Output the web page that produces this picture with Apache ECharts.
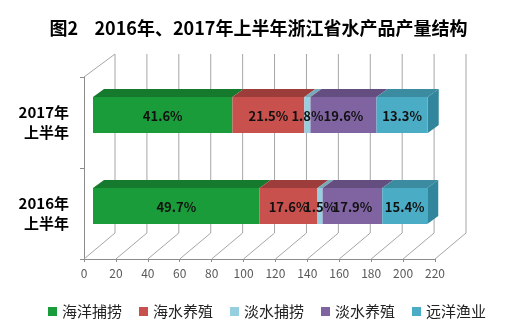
<!DOCTYPE html>
<html><head><meta charset="utf-8">
<script src="https://cdn.jsdelivr.net/npm/echarts@6/dist/echarts.min.js"></script>
<style>html,body{margin:0;padding:0;background:#fff}#c{width:517px;height:332px}</style>
</head><body><div id="c"></div>
<script>
const titleText = '图2    2016年、2017年上半年浙江省水产品产量结构';
const categories = ['2016年\n上半年', '2017年\n上半年'];
const seriesNames = ['海洋捕捞', '海水养殖', '淡水捕捞', '淡水养殖', '远洋渔业'];
const values2016 = [104.4, 36.3, 3.2, 37.4, 28.2];
const values2017 = [87.4, 45.1, 3.8, 41.4, 32.1];
const labels2016 = ['49.7%', '17.6%', '1.5%', '17.9%', '15.4%'];
const labels2017 = ['41.6%', '21.5%', '1.8%', '19.6%', '13.3%'];
const xTicks = [0, 20, 40, 60, 80, 100, 120, 140, 160, 180, 200, 220];

const frontColors = ['#1b9c3a', '#c8504d', '#96cfdf', '#8064a2', '#4bacc6'];
const topColors = ['#157a2d', '#9d3d3b', '#78aab9', '#644e80', '#3b8ba1'];
const sideColor = '#31859c';

const CJK = '"Noto Sans CJK SC", "Noto Sans", sans-serif';
const WALL_DX = 31, WALL_DY = -26;
const BAR_FX = 9, BAR_FY = -7.5;
const BAR_DX = 11, BAR_DY = -8;
const BAR_H = 36;

const allVals = [values2016, values2017];
const allLabels = [labels2016, labels2017];

function segData(si) {
  return allVals.map((vals, ci) => {
    let start = 0;
    for (let k = 0; k < si; k++) start += vals[k];
    return [start, ci, start + vals[si]];
  });
}

function renderSeg(si) {
  return function (params, api) {
    const start = api.value(0), ci = api.value(1), end = api.value(2);
    const label = allLabels[ci][si];
    const p0 = api.coord([start, ci]);
    const p1 = api.coord([end, ci]);
    const x0 = p0[0] + BAR_FX, x1 = p1[0] + BAR_FX;
    const yc = p0[1] + BAR_FY;
    const yT = yc - BAR_H / 2, yB = yc + BAR_H / 2;
    const children = [];
    children.push({
      type: 'polygon',
      shape: { points: [[x0, yT], [x1, yT], [x1 + BAR_DX, yT + BAR_DY], [x0 + BAR_DX, yT + BAR_DY]] },
      style: { fill: topColors[si] }
    });
    if (si === seriesNames.length - 1) {
      children.push({
        type: 'polygon',
        shape: { points: [[x1, yT], [x1 + BAR_DX, yT + BAR_DY], [x1 + BAR_DX, yB + BAR_DY], [x1, yB]] },
        style: { fill: sideColor }
      });
    }
    children.push({
      type: 'rect',
      shape: { x: x0, y: yT, width: x1 - x0, height: BAR_H },
      style: { fill: frontColors[si] }
    });
    children.push({
      type: 'text',
      z2: 10,
      style: {
        text: label, x: (x0 + x1) / 2, y: yc + 1,
        align: 'center', verticalAlign: 'middle',
        fill: '#111', font: 'bold 13px ' + CJK
      }
    });
    return { type: 'group', children: children };
  };
}

function renderWall(params, api) {
  const v = api.value(0);
  const cs = params.coordSys;
  const p = api.coord([v, 0]);
  const x = p[0];
  const bottom = cs.y + cs.height, top = cs.y;
  const st = { stroke: '#a6a6a6', lineWidth: 1 };
  const children = [
    { type: 'line', shape: { x1: x, y1: bottom, x2: x + WALL_DX, y2: bottom + WALL_DY }, style: st },
    { type: 'line', shape: { x1: x + WALL_DX, y1: bottom + WALL_DY, x2: x + WALL_DX, y2: top - 23 }, style: st }
  ];
  if (v === xTicks[0]) {
    children.push({ type: 'line', shape: { x1: x, y1: top, x2: x + WALL_DX, y2: top - 23 }, style: st });
  }
  return { type: 'group', children: children };
}

const series = [{
  type: 'custom',
  name: 'walls',
  renderItem: renderWall,
  data: xTicks.map(v => [v, 0]),
  clip: false, silent: true, z: 1,
  legendHoverLink: false
}];
seriesNames.forEach((n, si) => {
  series.push({
    type: 'custom',
    name: n,
    renderItem: renderSeg(si),
    data: segData(si),
    encode: { x: [0, 2], y: 1 },
    itemStyle: { color: frontColors[si] },
    clip: false, z: 3
  });
});

const chart = echarts.init(document.getElementById('c'), null, { renderer: 'canvas' });
chart.setOption({
  animation: false,
  backgroundColor: '#fff',
  title: {
    text: titleText, left: 'center', top: 14,
    textStyle: { fontFamily: CJK, fontSize: 18, fontWeight: 'bold', color: '#000' }
  },
  legend: {
    data: seriesNames, left: 48, top: 304, padding: 0,
    itemWidth: 9, itemHeight: 9, itemGap: 17,
    icon: 'rect',
    textStyle: { fontFamily: CJK, fontSize: 15, color: '#222' }
  },
  grid: { left: 84, right: 82, top: 77, bottom: 73, containLabel: false },
  xAxis: {
    type: 'value', min: 0, max: 220, interval: 20,
    axisLine: { show: true, lineStyle: { color: '#8c8c8c' } },
    axisTick: { show: true, length: 3, lineStyle: { color: '#8c8c8c' } },
    splitLine: { show: false },
    axisLabel: { color: '#595959', fontSize: 12, margin: 8, fontFamily: CJK }
  },
  yAxis: {
    type: 'category', data: categories,
    axisLine: { show: true, lineStyle: { color: '#8c8c8c' } },
    axisTick: { show: true, length: 4, lineStyle: { color: '#8c8c8c' } },
    axisLabel: { color: '#000', fontSize: 15, fontWeight: 'bold', lineHeight: 20, margin: 15, fontFamily: CJK, align: 'right' }
  },
  series: series
});
</script></body></html>
